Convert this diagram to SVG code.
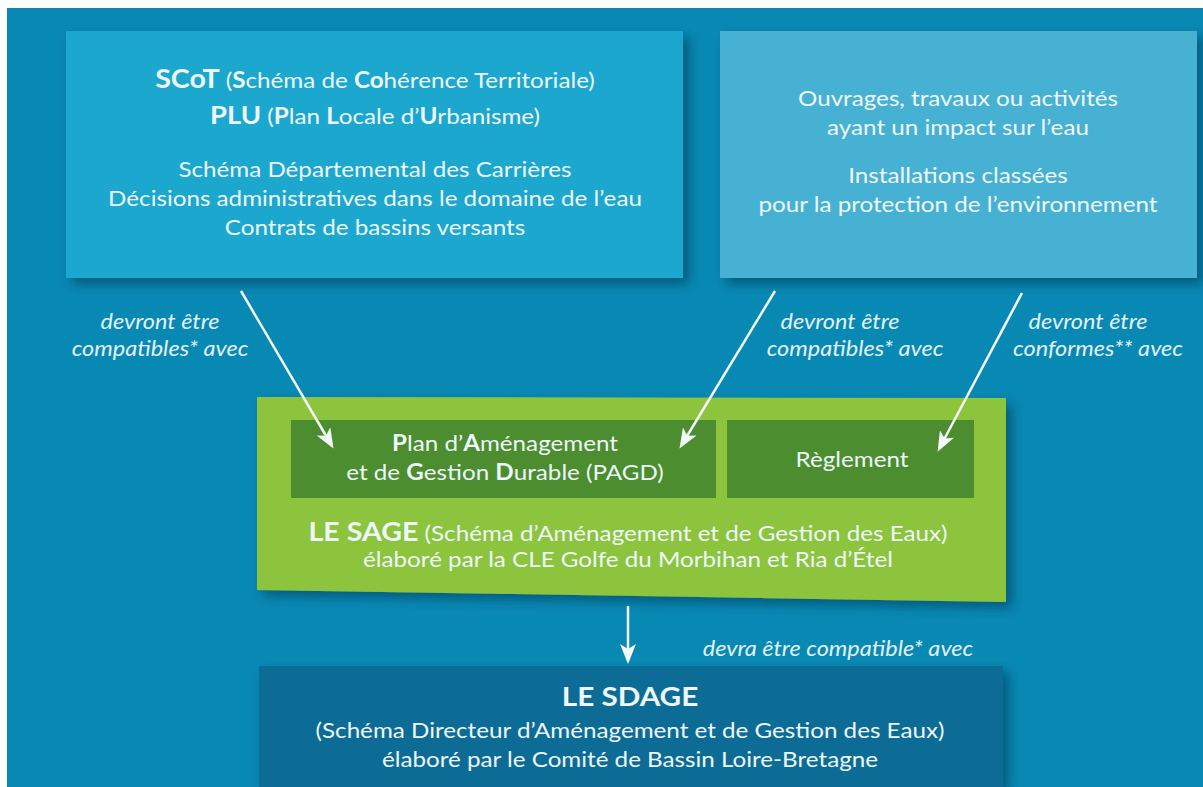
<svg xmlns="http://www.w3.org/2000/svg" width="1203" height="787" viewBox="0 0 1203 787">
<defs>
<style>
text{font-family:Lato,"Open Sans","Liberation Sans",sans-serif;fill:#eef7fa;text-anchor:middle}
.t{font-size:22px}
.b{font-weight:bold}
.i{font-style:italic;font-size:21px;fill:#e3f1f7}
.conn{stroke:#f4f8f8;stroke-width:2.5;fill:none}
</style>
<filter id="sh" x="-5%" y="-5%" width="115%" height="120%">
<feDropShadow dx="6" dy="6" stdDeviation="6" flood-color="#003850" flood-opacity="0.55"/>
</filter>
<marker id="ah" viewBox="0 0 20 16" refX="17" refY="8" markerWidth="20" markerHeight="16" markerUnits="userSpaceOnUse" orient="auto">
<path d="M0,0 L20,8 L0,16 L5,8 Z" fill="#f4f8f8"/>
</marker>
</defs>
<rect x="0" y="0" width="1203" height="787" fill="#ffffff"/>
<rect x="7" y="8" width="1196" height="779" fill="#0889b4"/>

<g id="box-scot">
<rect x="66" y="31" width="617" height="247" fill="#1ea7cf" filter="url(#sh)"/>
<g transform="matrix(1.1,0,0,1,-37.5,0)">
<text x="375" y="88" class="t"><tspan class="b" font-size="26">SCoT</tspan> (<tspan class="b">S</tspan>chéma de <tspan class="b">Co</tspan>hérence Territoriale)</text>
<text x="375" y="124" class="t"><tspan class="b" font-size="25">PLU</tspan> (<tspan class="b">P</tspan>lan <tspan class="b">L</tspan>ocale d’<tspan class="b">U</tspan>rbanisme)</text>
<text x="375" y="177" class="t">Schéma Départemental des Carrières</text>
<text x="375" y="206" class="t">Décisions administratives dans le domaine de l’eau</text>
<text x="375" y="235" class="t">Contrats de bassins versants</text>
</g>
</g>

<g id="box-ouvrages">
<rect x="720" y="31" width="477" height="247" fill="#47b1d4" filter="url(#sh)"/>
<g transform="matrix(1.1,0,0,1,-95.8,0)">
<text x="958" y="106" class="t">Ouvrages, travaux ou activités</text>
<text x="958" y="135" class="t">ayant un impact sur l’eau</text>
<text x="958" y="183" class="t">Installations classées</text>
<text x="958" y="212" class="t">pour la protection de l’environnement</text>
</g>
</g>

<g id="box-sage">
<polygon points="257,397 1006,398 1006,602 257,590" fill="#8cc43e" filter="url(#sh)"/>
<g transform="matrix(1.1,0,0,1,-62.8,0)">
<text x="628" y="541" class="t"><tspan class="b" font-size="26">LE SAGE</tspan> (Schéma d’Aménagement et de Gestion des Eaux)</text>
<text x="628" y="567" class="t">élaboré par la CLE Golfe du Morbihan et Ria d’Étel</text>
</g>
</g>

<g id="box-pagd">
<rect x="291" y="420" width="425" height="78" fill="#4b8d2f"/>
<g transform="matrix(1.1,0,0,1,-50.5,0)">
<text x="505" y="451" class="t"><tspan class="b">P</tspan>lan d’<tspan class="b">A</tspan>ménagement</text>
<text x="505" y="480" class="t">et de <tspan class="b">G</tspan>estion <tspan class="b">D</tspan>urable (PAGD)</text>
</g>
</g>

<g id="box-reglement">
<rect x="727" y="420" width="247" height="78" fill="#4b8d2f"/>
<g transform="matrix(1.1,0,0,1,-85.2,0)">
<text x="852" y="467" class="t">Règlement</text>
</g>
</g>

<g id="box-sdage">
<rect x="259" y="666" width="744" height="121" fill="#0a6c95" filter="url(#sh)"/>
<g transform="matrix(1.1,0,0,1,-63,0)">
<text x="630" y="706" class="b" font-size="27">LE SDAGE</text>
<text x="630" y="738" class="t">(Schéma Directeur d’Aménagement et de Gestion des Eaux)</text>
<text x="630" y="767" class="t">élaboré par le Comité de Bassin Loire-Bretagne</text>
</g>
</g>

<g id="connectors">
<line class="conn" x1="241" y1="291" x2="332" y2="446" marker-end="url(#ah)"/>
<line class="conn" x1="775" y1="291" x2="681" y2="446" marker-end="url(#ah)"/>
<line class="conn" x1="1022" y1="293" x2="939" y2="449" marker-end="url(#ah)"/>
<line class="conn" x1="628" y1="606" x2="628" y2="661" marker-end="url(#ah)"/>
<g transform="matrix(1.12,0,0,1,-19.2,0)">
<text x="160" y="329" class="i">devront être</text>
<text x="160" y="356" class="i">compatibles* avec</text>
</g>
<g transform="matrix(1.12,0,0,1,-100.8,0)"><text x="840" y="329" class="i">devront être</text></g>
<g transform="matrix(1.12,0,0,1,-102.6,0)"><text x="855" y="356" class="i">compatibles* avec</text></g>
<g transform="matrix(1.12,0,0,1,-130.56,0)"><text x="1088" y="329" class="i">devront être</text></g>
<g transform="matrix(1.12,0,0,1,-131.76,0)"><text x="1098" y="356" class="i">conformes** avec</text></g>
<g transform="matrix(1.12,0,0,1,-100.56,0)"><text x="838" y="656" class="i">devra être compatible* avec</text></g>
</g>
</svg>
